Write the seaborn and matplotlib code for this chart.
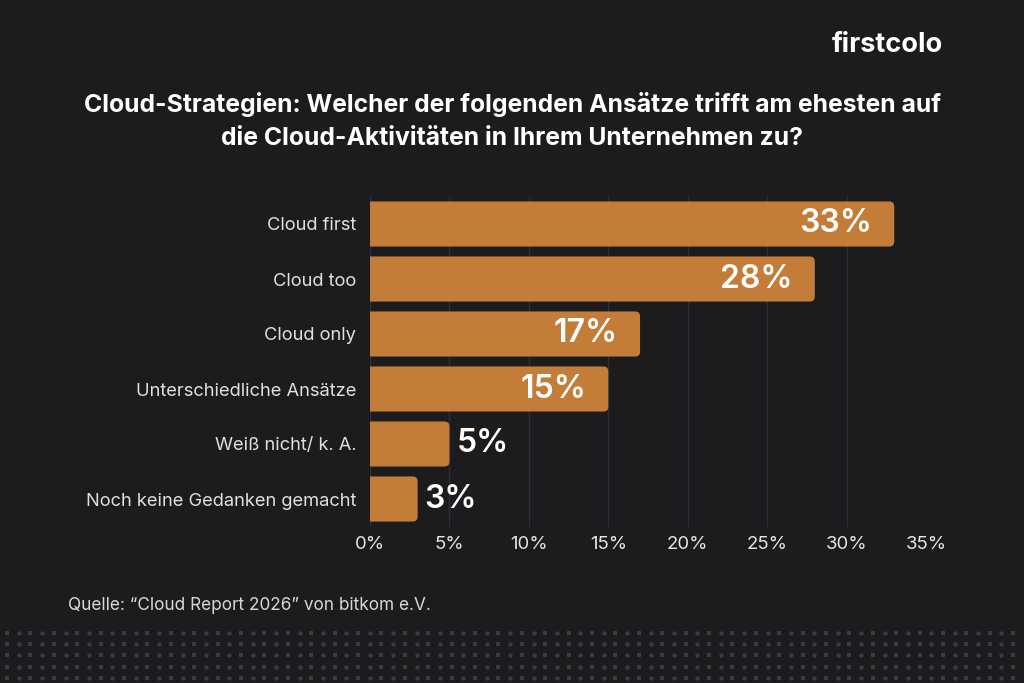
import numpy as np
import matplotlib.pyplot as plt
import seaborn as sns
from matplotlib.patches import FancyBboxPatch

categories = ['Cloud first', 'Cloud too', 'Cloud only', 'Unterschiedliche Ansätze',
              'Weiß nicht/ k. A.', 'Noch keine Gedanken gemacht']
shares = [33, 28, 17, 15, 5, 3]
xticks = [0, 5, 10, 15, 20, 25, 30, 35]

title = ('Cloud-Strategien: Welcher der folgenden Ansätze trifft am ehesten auf\n'
         'die Cloud-Aktivitäten in Ihrem Unternehmen zu?')
source = 'Quelle: \u201cCloud Report 2026\u201d von bitkom e.V.'

bg = '#1c1c1f'
bar_col = '#c47d38'
grid_col = '#303034'

sns.set_theme(style='dark')
plt.rcParams['font.family'] = ['Inter', 'DejaVu Sans']

fig = plt.figure(figsize=(10.24, 6.83), dpi=100, facecolor=bg)
ax = fig.add_axes([370 / 1024, 1 - 526.5 / 683, 556 / 1024, 330 / 683])
ax.set_facecolor(bg)

sns.barplot(x=shares, y=categories, orient='h', color=bar_col, width=0.82,
            saturation=1, ax=ax)
ax.set_xlim(0, 35)
ax.set_ylim(5.5, -0.5)

# rounded right ends: swap the plain rectangles for rounded boxes
r = 5 * 35 / 556
asp = (6 / 330) / (35 / 556)
for p in list(ax.patches):
    x, y, w, h = p.get_x(), p.get_y(), p.get_width(), p.get_height()
    p.remove()
    ax.add_patch(FancyBboxPatch((x - 1, y), w + 1, h,
                                boxstyle=f'round,pad=0,rounding_size={r}',
                                mutation_aspect=asp, fc=bar_col, ec='none', zorder=2))

for i, v in enumerate(shares):
    if v >= 10:
        ax.annotate(f'{v}%', (v, i), xytext=(-16, 0), textcoords='offset points',
                    ha='right', va='center', color='white', fontsize=23, fontweight='semibold')
    else:
        ax.annotate(f'{v}%', (v, i), xytext=(5, 0), textcoords='offset points',
                    ha='left', va='center', color='white', fontsize=23, fontweight='semibold')

ax.set_xticks(xticks)
ax.set_xticklabels([f'{t}%' for t in xticks])
ax.xaxis.grid(True, color=grid_col, lw=1)
ax.yaxis.grid(False)
ax.set_axisbelow(True)
for s in ax.spines.values():
    s.set_visible(False)
ax.tick_params(axis='x', length=0, pad=7, labelsize=13.4, labelcolor='#e6e6e6')
ax.tick_params(axis='y', length=0, pad=10, labelsize=13.2, labelcolor='#e0e0e0')
ax.set_xlabel('')
ax.set_ylabel('')

fig.text(0.5, 1 - 121 / 683, title, ha='center', va='center', color='white',
         fontsize=17.8, fontweight='bold', linespacing=1.6)
fig.text(943 / 1024, 1 - 45 / 683, 'firstcolo', ha='right', va='center', color='white',
         fontsize=19.5, fontweight='bold')
fig.text(68 / 1024, 1 - 605 / 683, source, ha='left', va='center', color='#d8d8d8',
         fontsize=12.4)

# dotted band at the bottom
dax = fig.add_axes([0, 0, 1, 56 / 683])
dax.set_xlim(0, 1024)
dax.set_ylim(683, 627)
dax.axis('off')
cols = np.arange(7, 1024, 11.7)
rows = np.arange(633, 683, 11.2)
for j, cx in enumerate(cols):
    m = 'o' if j % 2 else 's'
    dax.scatter(np.full(len(rows), cx), rows, s=10 if m == 'o' else 8, marker=m,
                color='#3c3c40', linewidths=0)

fig.savefig('out.png', dpi=100, facecolor=bg)
